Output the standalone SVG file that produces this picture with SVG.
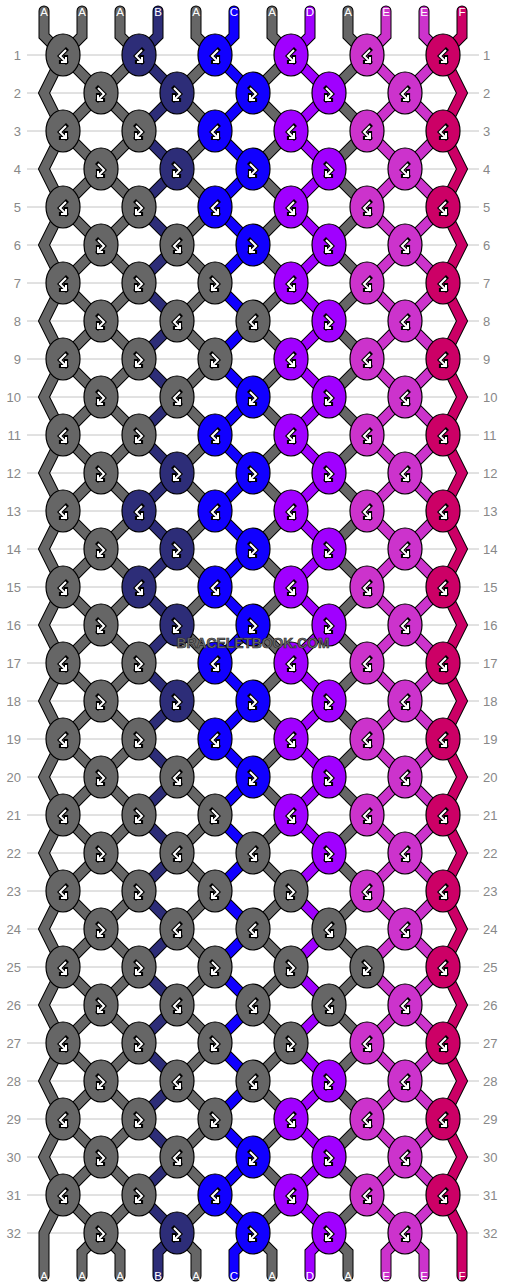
<svg xmlns="http://www.w3.org/2000/svg" xmlns:xlink="http://www.w3.org/1999/xlink" width="506" height="1288" viewBox="0 0 506 1288">
<style>
.th{fill:none;stroke-linejoin:miter;stroke-linecap:round}
.o{stroke:#000;stroke-width:11}
.ta{stroke:#666;stroke-width:9}
.tb{stroke:#2d2d78;stroke-width:9}
.tc{stroke:#1100ff;stroke-width:9}
.td{stroke:#a000ff;stroke-width:9}
.te{stroke:#cc33cc;stroke-width:9}
.tf{stroke:#cc0066;stroke-width:9}
ellipse{stroke:#000;stroke-width:1.2}
.a{fill:#666}.b{fill:#2d2d78}.c{fill:#1100ff}.d{fill:#a000ff}.e{fill:#cc33cc}.f{fill:#cc0066}
.io{fill:none;stroke:#000;stroke-width:4.2;stroke-linecap:square}
.ii{fill:none;stroke:#fff;stroke-width:2}
.lb{font-family:"Liberation Sans",Arial,sans-serif;font-size:11.5px;fill:#fff;text-anchor:middle}
.rl{font-family:"Liberation Sans",Arial,sans-serif;font-size:13px;fill:#888;text-anchor:end}
.rr{font-family:"Liberation Sans",Arial,sans-serif;font-size:13px;fill:#888;text-anchor:start}
.wm{font-family:"Liberation Sans",Arial,sans-serif;font-size:14px;font-weight:bold;fill:#707070;stroke:#2a2a2a;stroke-width:0.7;text-anchor:middle}
</style>
<defs>
<path id="zz" d="M0 11V36l19 19 -38 38 38 38 -38 38 38 38 -38 38 38 38 -38 38 38 38 -38 38 38 38
 -38 38 38 38 -38 38 38 38 -38 38 38 38 -38 38 38 38 -38 38 38 38
 -38 38 38 38 -38 38 38 38 -38 38 38 38 -38 38 38 38 -38 38 38 38
 -38 38 19 19V1276"/>
<path id="ed" d="M0 11V36l19 19 -19 38 19 38 -19 38 19 38 -19 38 19 38 -19 38 19 38 -19 38 19 38
 -19 38 19 38 -19 38 19 38 -19 38 19 38 -19 38 19 38 -19 38 19 38
 -19 38 19 38 -19 38 19 38 -19 38 19 38 -19 38 19 38 -19 38 19 38
 -19 38V1276"/>
<path id="ibf" d="M3-5-3 1 3 7M3 2V7H-2"/>
<path id="ifb" d="M-3-5 3 1-3 7M-3 2V7H2"/>
<g id="bf"><use href="#ibf" class="io"/><use href="#ibf" class="ii"/></g>
<g id="fb"><use href="#ifb" class="io"/><use href="#ifb" class="ii"/></g>
</defs>
<rect width="506" height="1288" fill="#fff"/>
<path stroke="#c4c4c4" stroke-width="1" fill="none" d="M27 55H479M27 93H479M27 131H479M27 169H479M27 207H479M27 245H479M27 283H479M27 321H479M27 359H479M27 397H479M27 435H479M27 473H479M27 511H479M27 549H479M27 587H479M27 625H479M27 663H479M27 701H479M27 739H479M27 777H479M27 815H479M27 853H479M27 891H479M27 929H479M27 967H479M27 1005H479M27 1043H479M27 1081H479M27 1119H479M27 1157H479M27 1195H479M27 1233H479"/>
<g id="threads" class="th">
<use href="#ed" class="o" transform="translate(44 0)"/>
<use href="#zz" class="o" transform="translate(82 0) scale(-1 1)"/>
<use href="#zz" class="o" transform="translate(120 0)"/>
<use href="#zz" class="o" transform="translate(158 0) scale(-1 1)"/>
<use href="#zz" class="o" transform="translate(196 0)"/>
<use href="#zz" class="o" transform="translate(234 0) scale(-1 1)"/>
<use href="#zz" class="o" transform="translate(272 0)"/>
<use href="#zz" class="o" transform="translate(310 0) scale(-1 1)"/>
<use href="#zz" class="o" transform="translate(348 0)"/>
<use href="#zz" class="o" transform="translate(386 0) scale(-1 1)"/>
<use href="#zz" class="o" transform="translate(424 0)"/>
<use href="#ed" class="o" transform="translate(462 0) scale(-1 1)"/>
<use href="#ed" class="ta" transform="translate(44 0)"/>
<use href="#zz" class="ta" transform="translate(82 0) scale(-1 1)"/>
<use href="#zz" class="ta" transform="translate(120 0)"/>
<use href="#zz" class="tb" transform="translate(158 0) scale(-1 1)"/>
<use href="#zz" class="ta" transform="translate(196 0)"/>
<use href="#zz" class="tc" transform="translate(234 0) scale(-1 1)"/>
<use href="#zz" class="ta" transform="translate(272 0)"/>
<use href="#zz" class="td" transform="translate(310 0) scale(-1 1)"/>
<use href="#zz" class="ta" transform="translate(348 0)"/>
<use href="#zz" class="te" transform="translate(386 0) scale(-1 1)"/>
<use href="#zz" class="te" transform="translate(424 0)"/>
<use href="#ed" class="tf" transform="translate(462 0) scale(-1 1)"/>
</g>
<g id="knots">
<g id="k1-1"><ellipse class="a" cx="63" cy="55" rx="17" ry="21"/><use href="#bf" x="63" y="55"/></g>
<g id="k1-2"><ellipse class="b" cx="139" cy="55" rx="17" ry="21"/><use href="#bf" x="139" y="55"/></g>
<g id="k1-3"><ellipse class="c" cx="215" cy="55" rx="17" ry="21"/><use href="#bf" x="215" y="55"/></g>
<g id="k1-4"><ellipse class="d" cx="291" cy="55" rx="17" ry="21"/><use href="#bf" x="291" y="55"/></g>
<g id="k1-5"><ellipse class="e" cx="367" cy="55" rx="17" ry="21"/><use href="#bf" x="367" y="55"/></g>
<g id="k1-6"><ellipse class="f" cx="443" cy="55" rx="17" ry="21"/><use href="#bf" x="443" y="55"/></g>
<g id="k2-1"><ellipse class="a" cx="101" cy="93" rx="17" ry="21"/><use href="#fb" x="101" y="93"/></g>
<g id="k2-2"><ellipse class="b" cx="177" cy="93" rx="17" ry="21"/><use href="#fb" x="177" y="93"/></g>
<g id="k2-3"><ellipse class="c" cx="253" cy="93" rx="17" ry="21"/><use href="#fb" x="253" y="93"/></g>
<g id="k2-4"><ellipse class="d" cx="329" cy="93" rx="17" ry="21"/><use href="#fb" x="329" y="93"/></g>
<g id="k2-5"><ellipse class="e" cx="405" cy="93" rx="17" ry="21"/><use href="#bf" x="405" y="93"/></g>
<g id="k3-1"><ellipse class="a" cx="63" cy="131" rx="17" ry="21"/><use href="#bf" x="63" y="131"/></g>
<g id="k3-2"><ellipse class="a" cx="139" cy="131" rx="17" ry="21"/><use href="#fb" x="139" y="131"/></g>
<g id="k3-3"><ellipse class="c" cx="215" cy="131" rx="17" ry="21"/><use href="#bf" x="215" y="131"/></g>
<g id="k3-4"><ellipse class="d" cx="291" cy="131" rx="17" ry="21"/><use href="#bf" x="291" y="131"/></g>
<g id="k3-5"><ellipse class="e" cx="367" cy="131" rx="17" ry="21"/><use href="#bf" x="367" y="131"/></g>
<g id="k3-6"><ellipse class="f" cx="443" cy="131" rx="17" ry="21"/><use href="#bf" x="443" y="131"/></g>
<g id="k4-1"><ellipse class="a" cx="101" cy="169" rx="17" ry="21"/><use href="#fb" x="101" y="169"/></g>
<g id="k4-2"><ellipse class="b" cx="177" cy="169" rx="17" ry="21"/><use href="#fb" x="177" y="169"/></g>
<g id="k4-3"><ellipse class="c" cx="253" cy="169" rx="17" ry="21"/><use href="#fb" x="253" y="169"/></g>
<g id="k4-4"><ellipse class="d" cx="329" cy="169" rx="17" ry="21"/><use href="#fb" x="329" y="169"/></g>
<g id="k4-5"><ellipse class="e" cx="405" cy="169" rx="17" ry="21"/><use href="#bf" x="405" y="169"/></g>
<g id="k5-1"><ellipse class="a" cx="63" cy="207" rx="17" ry="21"/><use href="#bf" x="63" y="207"/></g>
<g id="k5-2"><ellipse class="a" cx="139" cy="207" rx="17" ry="21"/><use href="#fb" x="139" y="207"/></g>
<g id="k5-3"><ellipse class="c" cx="215" cy="207" rx="17" ry="21"/><use href="#bf" x="215" y="207"/></g>
<g id="k5-4"><ellipse class="d" cx="291" cy="207" rx="17" ry="21"/><use href="#bf" x="291" y="207"/></g>
<g id="k5-5"><ellipse class="e" cx="367" cy="207" rx="17" ry="21"/><use href="#bf" x="367" y="207"/></g>
<g id="k5-6"><ellipse class="f" cx="443" cy="207" rx="17" ry="21"/><use href="#bf" x="443" y="207"/></g>
<g id="k6-1"><ellipse class="a" cx="101" cy="245" rx="17" ry="21"/><use href="#fb" x="101" y="245"/></g>
<g id="k6-2"><ellipse class="a" cx="177" cy="245" rx="17" ry="21"/><use href="#bf" x="177" y="245"/></g>
<g id="k6-3"><ellipse class="c" cx="253" cy="245" rx="17" ry="21"/><use href="#fb" x="253" y="245"/></g>
<g id="k6-4"><ellipse class="d" cx="329" cy="245" rx="17" ry="21"/><use href="#fb" x="329" y="245"/></g>
<g id="k6-5"><ellipse class="e" cx="405" cy="245" rx="17" ry="21"/><use href="#bf" x="405" y="245"/></g>
<g id="k7-1"><ellipse class="a" cx="63" cy="283" rx="17" ry="21"/><use href="#bf" x="63" y="283"/></g>
<g id="k7-2"><ellipse class="a" cx="139" cy="283" rx="17" ry="21"/><use href="#fb" x="139" y="283"/></g>
<g id="k7-3"><ellipse class="a" cx="215" cy="283" rx="17" ry="21"/><use href="#fb" x="215" y="283"/></g>
<g id="k7-4"><ellipse class="d" cx="291" cy="283" rx="17" ry="21"/><use href="#bf" x="291" y="283"/></g>
<g id="k7-5"><ellipse class="e" cx="367" cy="283" rx="17" ry="21"/><use href="#bf" x="367" y="283"/></g>
<g id="k7-6"><ellipse class="f" cx="443" cy="283" rx="17" ry="21"/><use href="#bf" x="443" y="283"/></g>
<g id="k8-1"><ellipse class="a" cx="101" cy="321" rx="17" ry="21"/><use href="#fb" x="101" y="321"/></g>
<g id="k8-2"><ellipse class="a" cx="177" cy="321" rx="17" ry="21"/><use href="#bf" x="177" y="321"/></g>
<g id="k8-3"><ellipse class="a" cx="253" cy="321" rx="17" ry="21"/><use href="#bf" x="253" y="321"/></g>
<g id="k8-4"><ellipse class="d" cx="329" cy="321" rx="17" ry="21"/><use href="#fb" x="329" y="321"/></g>
<g id="k8-5"><ellipse class="e" cx="405" cy="321" rx="17" ry="21"/><use href="#bf" x="405" y="321"/></g>
<g id="k9-1"><ellipse class="a" cx="63" cy="359" rx="17" ry="21"/><use href="#bf" x="63" y="359"/></g>
<g id="k9-2"><ellipse class="a" cx="139" cy="359" rx="17" ry="21"/><use href="#fb" x="139" y="359"/></g>
<g id="k9-3"><ellipse class="a" cx="215" cy="359" rx="17" ry="21"/><use href="#fb" x="215" y="359"/></g>
<g id="k9-4"><ellipse class="d" cx="291" cy="359" rx="17" ry="21"/><use href="#bf" x="291" y="359"/></g>
<g id="k9-5"><ellipse class="e" cx="367" cy="359" rx="17" ry="21"/><use href="#bf" x="367" y="359"/></g>
<g id="k9-6"><ellipse class="f" cx="443" cy="359" rx="17" ry="21"/><use href="#bf" x="443" y="359"/></g>
<g id="k10-1"><ellipse class="a" cx="101" cy="397" rx="17" ry="21"/><use href="#fb" x="101" y="397"/></g>
<g id="k10-2"><ellipse class="a" cx="177" cy="397" rx="17" ry="21"/><use href="#bf" x="177" y="397"/></g>
<g id="k10-3"><ellipse class="c" cx="253" cy="397" rx="17" ry="21"/><use href="#fb" x="253" y="397"/></g>
<g id="k10-4"><ellipse class="d" cx="329" cy="397" rx="17" ry="21"/><use href="#fb" x="329" y="397"/></g>
<g id="k10-5"><ellipse class="e" cx="405" cy="397" rx="17" ry="21"/><use href="#bf" x="405" y="397"/></g>
<g id="k11-1"><ellipse class="a" cx="63" cy="435" rx="17" ry="21"/><use href="#bf" x="63" y="435"/></g>
<g id="k11-2"><ellipse class="a" cx="139" cy="435" rx="17" ry="21"/><use href="#fb" x="139" y="435"/></g>
<g id="k11-3"><ellipse class="c" cx="215" cy="435" rx="17" ry="21"/><use href="#bf" x="215" y="435"/></g>
<g id="k11-4"><ellipse class="d" cx="291" cy="435" rx="17" ry="21"/><use href="#bf" x="291" y="435"/></g>
<g id="k11-5"><ellipse class="e" cx="367" cy="435" rx="17" ry="21"/><use href="#bf" x="367" y="435"/></g>
<g id="k11-6"><ellipse class="f" cx="443" cy="435" rx="17" ry="21"/><use href="#bf" x="443" y="435"/></g>
<g id="k12-1"><ellipse class="a" cx="101" cy="473" rx="17" ry="21"/><use href="#fb" x="101" y="473"/></g>
<g id="k12-2"><ellipse class="b" cx="177" cy="473" rx="17" ry="21"/><use href="#fb" x="177" y="473"/></g>
<g id="k12-3"><ellipse class="c" cx="253" cy="473" rx="17" ry="21"/><use href="#fb" x="253" y="473"/></g>
<g id="k12-4"><ellipse class="d" cx="329" cy="473" rx="17" ry="21"/><use href="#fb" x="329" y="473"/></g>
<g id="k12-5"><ellipse class="e" cx="405" cy="473" rx="17" ry="21"/><use href="#bf" x="405" y="473"/></g>
<g id="k13-1"><ellipse class="a" cx="63" cy="511" rx="17" ry="21"/><use href="#bf" x="63" y="511"/></g>
<g id="k13-2"><ellipse class="b" cx="139" cy="511" rx="17" ry="21"/><use href="#bf" x="139" y="511"/></g>
<g id="k13-3"><ellipse class="c" cx="215" cy="511" rx="17" ry="21"/><use href="#bf" x="215" y="511"/></g>
<g id="k13-4"><ellipse class="d" cx="291" cy="511" rx="17" ry="21"/><use href="#bf" x="291" y="511"/></g>
<g id="k13-5"><ellipse class="e" cx="367" cy="511" rx="17" ry="21"/><use href="#bf" x="367" y="511"/></g>
<g id="k13-6"><ellipse class="f" cx="443" cy="511" rx="17" ry="21"/><use href="#bf" x="443" y="511"/></g>
<g id="k14-1"><ellipse class="a" cx="101" cy="549" rx="17" ry="21"/><use href="#fb" x="101" y="549"/></g>
<g id="k14-2"><ellipse class="b" cx="177" cy="549" rx="17" ry="21"/><use href="#fb" x="177" y="549"/></g>
<g id="k14-3"><ellipse class="c" cx="253" cy="549" rx="17" ry="21"/><use href="#fb" x="253" y="549"/></g>
<g id="k14-4"><ellipse class="d" cx="329" cy="549" rx="17" ry="21"/><use href="#fb" x="329" y="549"/></g>
<g id="k14-5"><ellipse class="e" cx="405" cy="549" rx="17" ry="21"/><use href="#bf" x="405" y="549"/></g>
<g id="k15-1"><ellipse class="a" cx="63" cy="587" rx="17" ry="21"/><use href="#bf" x="63" y="587"/></g>
<g id="k15-2"><ellipse class="b" cx="139" cy="587" rx="17" ry="21"/><use href="#bf" x="139" y="587"/></g>
<g id="k15-3"><ellipse class="c" cx="215" cy="587" rx="17" ry="21"/><use href="#bf" x="215" y="587"/></g>
<g id="k15-4"><ellipse class="d" cx="291" cy="587" rx="17" ry="21"/><use href="#bf" x="291" y="587"/></g>
<g id="k15-5"><ellipse class="e" cx="367" cy="587" rx="17" ry="21"/><use href="#bf" x="367" y="587"/></g>
<g id="k15-6"><ellipse class="f" cx="443" cy="587" rx="17" ry="21"/><use href="#bf" x="443" y="587"/></g>
<g id="k16-1"><ellipse class="a" cx="101" cy="625" rx="17" ry="21"/><use href="#fb" x="101" y="625"/></g>
<g id="k16-2"><ellipse class="b" cx="177" cy="625" rx="17" ry="21"/><use href="#fb" x="177" y="625"/></g>
<g id="k16-3"><ellipse class="c" cx="253" cy="625" rx="17" ry="21"/><use href="#fb" x="253" y="625"/></g>
<g id="k16-4"><ellipse class="d" cx="329" cy="625" rx="17" ry="21"/><use href="#fb" x="329" y="625"/></g>
<g id="k16-5"><ellipse class="e" cx="405" cy="625" rx="17" ry="21"/><use href="#bf" x="405" y="625"/></g>
<g id="k17-1"><ellipse class="a" cx="63" cy="663" rx="17" ry="21"/><use href="#bf" x="63" y="663"/></g>
<g id="k17-2"><ellipse class="a" cx="139" cy="663" rx="17" ry="21"/><use href="#fb" x="139" y="663"/></g>
<g id="k17-3"><ellipse class="c" cx="215" cy="663" rx="17" ry="21"/><use href="#bf" x="215" y="663"/></g>
<g id="k17-4"><ellipse class="d" cx="291" cy="663" rx="17" ry="21"/><use href="#bf" x="291" y="663"/></g>
<g id="k17-5"><ellipse class="e" cx="367" cy="663" rx="17" ry="21"/><use href="#bf" x="367" y="663"/></g>
<g id="k17-6"><ellipse class="f" cx="443" cy="663" rx="17" ry="21"/><use href="#bf" x="443" y="663"/></g>
<g id="k18-1"><ellipse class="a" cx="101" cy="701" rx="17" ry="21"/><use href="#fb" x="101" y="701"/></g>
<g id="k18-2"><ellipse class="b" cx="177" cy="701" rx="17" ry="21"/><use href="#fb" x="177" y="701"/></g>
<g id="k18-3"><ellipse class="c" cx="253" cy="701" rx="17" ry="21"/><use href="#fb" x="253" y="701"/></g>
<g id="k18-4"><ellipse class="d" cx="329" cy="701" rx="17" ry="21"/><use href="#fb" x="329" y="701"/></g>
<g id="k18-5"><ellipse class="e" cx="405" cy="701" rx="17" ry="21"/><use href="#bf" x="405" y="701"/></g>
<g id="k19-1"><ellipse class="a" cx="63" cy="739" rx="17" ry="21"/><use href="#bf" x="63" y="739"/></g>
<g id="k19-2"><ellipse class="a" cx="139" cy="739" rx="17" ry="21"/><use href="#fb" x="139" y="739"/></g>
<g id="k19-3"><ellipse class="c" cx="215" cy="739" rx="17" ry="21"/><use href="#bf" x="215" y="739"/></g>
<g id="k19-4"><ellipse class="d" cx="291" cy="739" rx="17" ry="21"/><use href="#bf" x="291" y="739"/></g>
<g id="k19-5"><ellipse class="e" cx="367" cy="739" rx="17" ry="21"/><use href="#bf" x="367" y="739"/></g>
<g id="k19-6"><ellipse class="f" cx="443" cy="739" rx="17" ry="21"/><use href="#bf" x="443" y="739"/></g>
<g id="k20-1"><ellipse class="a" cx="101" cy="777" rx="17" ry="21"/><use href="#fb" x="101" y="777"/></g>
<g id="k20-2"><ellipse class="a" cx="177" cy="777" rx="17" ry="21"/><use href="#bf" x="177" y="777"/></g>
<g id="k20-3"><ellipse class="c" cx="253" cy="777" rx="17" ry="21"/><use href="#fb" x="253" y="777"/></g>
<g id="k20-4"><ellipse class="d" cx="329" cy="777" rx="17" ry="21"/><use href="#fb" x="329" y="777"/></g>
<g id="k20-5"><ellipse class="e" cx="405" cy="777" rx="17" ry="21"/><use href="#bf" x="405" y="777"/></g>
<g id="k21-1"><ellipse class="a" cx="63" cy="815" rx="17" ry="21"/><use href="#bf" x="63" y="815"/></g>
<g id="k21-2"><ellipse class="a" cx="139" cy="815" rx="17" ry="21"/><use href="#fb" x="139" y="815"/></g>
<g id="k21-3"><ellipse class="a" cx="215" cy="815" rx="17" ry="21"/><use href="#fb" x="215" y="815"/></g>
<g id="k21-4"><ellipse class="d" cx="291" cy="815" rx="17" ry="21"/><use href="#bf" x="291" y="815"/></g>
<g id="k21-5"><ellipse class="e" cx="367" cy="815" rx="17" ry="21"/><use href="#bf" x="367" y="815"/></g>
<g id="k21-6"><ellipse class="f" cx="443" cy="815" rx="17" ry="21"/><use href="#bf" x="443" y="815"/></g>
<g id="k22-1"><ellipse class="a" cx="101" cy="853" rx="17" ry="21"/><use href="#fb" x="101" y="853"/></g>
<g id="k22-2"><ellipse class="a" cx="177" cy="853" rx="17" ry="21"/><use href="#bf" x="177" y="853"/></g>
<g id="k22-3"><ellipse class="a" cx="253" cy="853" rx="17" ry="21"/><use href="#bf" x="253" y="853"/></g>
<g id="k22-4"><ellipse class="d" cx="329" cy="853" rx="17" ry="21"/><use href="#fb" x="329" y="853"/></g>
<g id="k22-5"><ellipse class="e" cx="405" cy="853" rx="17" ry="21"/><use href="#bf" x="405" y="853"/></g>
<g id="k23-1"><ellipse class="a" cx="63" cy="891" rx="17" ry="21"/><use href="#bf" x="63" y="891"/></g>
<g id="k23-2"><ellipse class="a" cx="139" cy="891" rx="17" ry="21"/><use href="#fb" x="139" y="891"/></g>
<g id="k23-3"><ellipse class="a" cx="215" cy="891" rx="17" ry="21"/><use href="#fb" x="215" y="891"/></g>
<g id="k23-4"><ellipse class="a" cx="291" cy="891" rx="17" ry="21"/><use href="#fb" x="291" y="891"/></g>
<g id="k23-5"><ellipse class="e" cx="367" cy="891" rx="17" ry="21"/><use href="#bf" x="367" y="891"/></g>
<g id="k23-6"><ellipse class="f" cx="443" cy="891" rx="17" ry="21"/><use href="#bf" x="443" y="891"/></g>
<g id="k24-1"><ellipse class="a" cx="101" cy="929" rx="17" ry="21"/><use href="#fb" x="101" y="929"/></g>
<g id="k24-2"><ellipse class="a" cx="177" cy="929" rx="17" ry="21"/><use href="#bf" x="177" y="929"/></g>
<g id="k24-3"><ellipse class="a" cx="253" cy="929" rx="17" ry="21"/><use href="#bf" x="253" y="929"/></g>
<g id="k24-4"><ellipse class="a" cx="329" cy="929" rx="17" ry="21"/><use href="#bf" x="329" y="929"/></g>
<g id="k24-5"><ellipse class="e" cx="405" cy="929" rx="17" ry="21"/><use href="#bf" x="405" y="929"/></g>
<g id="k25-1"><ellipse class="a" cx="63" cy="967" rx="17" ry="21"/><use href="#bf" x="63" y="967"/></g>
<g id="k25-2"><ellipse class="a" cx="139" cy="967" rx="17" ry="21"/><use href="#fb" x="139" y="967"/></g>
<g id="k25-3"><ellipse class="a" cx="215" cy="967" rx="17" ry="21"/><use href="#fb" x="215" y="967"/></g>
<g id="k25-4"><ellipse class="a" cx="291" cy="967" rx="17" ry="21"/><use href="#fb" x="291" y="967"/></g>
<g id="k25-5"><ellipse class="a" cx="367" cy="967" rx="17" ry="21"/><use href="#fb" x="367" y="967"/></g>
<g id="k25-6"><ellipse class="f" cx="443" cy="967" rx="17" ry="21"/><use href="#bf" x="443" y="967"/></g>
<g id="k26-1"><ellipse class="a" cx="101" cy="1005" rx="17" ry="21"/><use href="#fb" x="101" y="1005"/></g>
<g id="k26-2"><ellipse class="a" cx="177" cy="1005" rx="17" ry="21"/><use href="#bf" x="177" y="1005"/></g>
<g id="k26-3"><ellipse class="a" cx="253" cy="1005" rx="17" ry="21"/><use href="#bf" x="253" y="1005"/></g>
<g id="k26-4"><ellipse class="a" cx="329" cy="1005" rx="17" ry="21"/><use href="#bf" x="329" y="1005"/></g>
<g id="k26-5"><ellipse class="e" cx="405" cy="1005" rx="17" ry="21"/><use href="#bf" x="405" y="1005"/></g>
<g id="k27-1"><ellipse class="a" cx="63" cy="1043" rx="17" ry="21"/><use href="#bf" x="63" y="1043"/></g>
<g id="k27-2"><ellipse class="a" cx="139" cy="1043" rx="17" ry="21"/><use href="#fb" x="139" y="1043"/></g>
<g id="k27-3"><ellipse class="a" cx="215" cy="1043" rx="17" ry="21"/><use href="#fb" x="215" y="1043"/></g>
<g id="k27-4"><ellipse class="a" cx="291" cy="1043" rx="17" ry="21"/><use href="#fb" x="291" y="1043"/></g>
<g id="k27-5"><ellipse class="e" cx="367" cy="1043" rx="17" ry="21"/><use href="#bf" x="367" y="1043"/></g>
<g id="k27-6"><ellipse class="f" cx="443" cy="1043" rx="17" ry="21"/><use href="#bf" x="443" y="1043"/></g>
<g id="k28-1"><ellipse class="a" cx="101" cy="1081" rx="17" ry="21"/><use href="#fb" x="101" y="1081"/></g>
<g id="k28-2"><ellipse class="a" cx="177" cy="1081" rx="17" ry="21"/><use href="#bf" x="177" y="1081"/></g>
<g id="k28-3"><ellipse class="a" cx="253" cy="1081" rx="17" ry="21"/><use href="#bf" x="253" y="1081"/></g>
<g id="k28-4"><ellipse class="d" cx="329" cy="1081" rx="17" ry="21"/><use href="#fb" x="329" y="1081"/></g>
<g id="k28-5"><ellipse class="e" cx="405" cy="1081" rx="17" ry="21"/><use href="#bf" x="405" y="1081"/></g>
<g id="k29-1"><ellipse class="a" cx="63" cy="1119" rx="17" ry="21"/><use href="#bf" x="63" y="1119"/></g>
<g id="k29-2"><ellipse class="a" cx="139" cy="1119" rx="17" ry="21"/><use href="#fb" x="139" y="1119"/></g>
<g id="k29-3"><ellipse class="a" cx="215" cy="1119" rx="17" ry="21"/><use href="#fb" x="215" y="1119"/></g>
<g id="k29-4"><ellipse class="d" cx="291" cy="1119" rx="17" ry="21"/><use href="#bf" x="291" y="1119"/></g>
<g id="k29-5"><ellipse class="e" cx="367" cy="1119" rx="17" ry="21"/><use href="#bf" x="367" y="1119"/></g>
<g id="k29-6"><ellipse class="f" cx="443" cy="1119" rx="17" ry="21"/><use href="#bf" x="443" y="1119"/></g>
<g id="k30-1"><ellipse class="a" cx="101" cy="1157" rx="17" ry="21"/><use href="#fb" x="101" y="1157"/></g>
<g id="k30-2"><ellipse class="a" cx="177" cy="1157" rx="17" ry="21"/><use href="#bf" x="177" y="1157"/></g>
<g id="k30-3"><ellipse class="c" cx="253" cy="1157" rx="17" ry="21"/><use href="#fb" x="253" y="1157"/></g>
<g id="k30-4"><ellipse class="d" cx="329" cy="1157" rx="17" ry="21"/><use href="#fb" x="329" y="1157"/></g>
<g id="k30-5"><ellipse class="e" cx="405" cy="1157" rx="17" ry="21"/><use href="#bf" x="405" y="1157"/></g>
<g id="k31-1"><ellipse class="a" cx="63" cy="1195" rx="17" ry="21"/><use href="#bf" x="63" y="1195"/></g>
<g id="k31-2"><ellipse class="a" cx="139" cy="1195" rx="17" ry="21"/><use href="#fb" x="139" y="1195"/></g>
<g id="k31-3"><ellipse class="c" cx="215" cy="1195" rx="17" ry="21"/><use href="#bf" x="215" y="1195"/></g>
<g id="k31-4"><ellipse class="d" cx="291" cy="1195" rx="17" ry="21"/><use href="#bf" x="291" y="1195"/></g>
<g id="k31-5"><ellipse class="e" cx="367" cy="1195" rx="17" ry="21"/><use href="#bf" x="367" y="1195"/></g>
<g id="k31-6"><ellipse class="f" cx="443" cy="1195" rx="17" ry="21"/><use href="#bf" x="443" y="1195"/></g>
<g id="k32-1"><ellipse class="a" cx="101" cy="1233" rx="17" ry="21"/><use href="#fb" x="101" y="1233"/></g>
<g id="k32-2"><ellipse class="b" cx="177" cy="1233" rx="17" ry="21"/><use href="#fb" x="177" y="1233"/></g>
<g id="k32-3"><ellipse class="c" cx="253" cy="1233" rx="17" ry="21"/><use href="#fb" x="253" y="1233"/></g>
<g id="k32-4"><ellipse class="d" cx="329" cy="1233" rx="17" ry="21"/><use href="#fb" x="329" y="1233"/></g>
<g id="k32-5"><ellipse class="e" cx="405" cy="1233" rx="17" ry="21"/><use href="#bf" x="405" y="1233"/></g>
</g>
<g id="labels">
<text class="lb" x="44" y="15.5">A</text><text class="lb" x="82" y="15.5">A</text><text class="lb" x="120" y="15.5">A</text><text class="lb" x="158" y="15.5">B</text><text class="lb" x="196" y="15.5">A</text><text class="lb" x="234" y="15.5">C</text><text class="lb" x="272" y="15.5">A</text><text class="lb" x="310" y="15.5">D</text><text class="lb" x="348" y="15.5">A</text><text class="lb" x="386" y="15.5">E</text><text class="lb" x="424" y="15.5">E</text><text class="lb" x="462" y="15.5">F</text>
<text class="lb" x="44" y="1280">A</text><text class="lb" x="82" y="1280">A</text><text class="lb" x="120" y="1280">A</text><text class="lb" x="158" y="1280">B</text><text class="lb" x="196" y="1280">A</text><text class="lb" x="234" y="1280">C</text><text class="lb" x="272" y="1280">A</text><text class="lb" x="310" y="1280">D</text><text class="lb" x="348" y="1280">A</text><text class="lb" x="386" y="1280">E</text><text class="lb" x="424" y="1280">E</text><text class="lb" x="462" y="1280">F</text>
</g>
<g id="rownums">
<text class="rl" x="21" y="59.5">1</text><text class="rr" x="483" y="59.5">1</text>
<text class="rl" x="21" y="97.5">2</text><text class="rr" x="483" y="97.5">2</text>
<text class="rl" x="21" y="135.5">3</text><text class="rr" x="483" y="135.5">3</text>
<text class="rl" x="21" y="173.5">4</text><text class="rr" x="483" y="173.5">4</text>
<text class="rl" x="21" y="211.5">5</text><text class="rr" x="483" y="211.5">5</text>
<text class="rl" x="21" y="249.5">6</text><text class="rr" x="483" y="249.5">6</text>
<text class="rl" x="21" y="287.5">7</text><text class="rr" x="483" y="287.5">7</text>
<text class="rl" x="21" y="325.5">8</text><text class="rr" x="483" y="325.5">8</text>
<text class="rl" x="21" y="363.5">9</text><text class="rr" x="483" y="363.5">9</text>
<text class="rl" x="21" y="401.5">10</text><text class="rr" x="483" y="401.5">10</text>
<text class="rl" x="21" y="439.5">11</text><text class="rr" x="483" y="439.5">11</text>
<text class="rl" x="21" y="477.5">12</text><text class="rr" x="483" y="477.5">12</text>
<text class="rl" x="21" y="515.5">13</text><text class="rr" x="483" y="515.5">13</text>
<text class="rl" x="21" y="553.5">14</text><text class="rr" x="483" y="553.5">14</text>
<text class="rl" x="21" y="591.5">15</text><text class="rr" x="483" y="591.5">15</text>
<text class="rl" x="21" y="629.5">16</text><text class="rr" x="483" y="629.5">16</text>
<text class="rl" x="21" y="667.5">17</text><text class="rr" x="483" y="667.5">17</text>
<text class="rl" x="21" y="705.5">18</text><text class="rr" x="483" y="705.5">18</text>
<text class="rl" x="21" y="743.5">19</text><text class="rr" x="483" y="743.5">19</text>
<text class="rl" x="21" y="781.5">20</text><text class="rr" x="483" y="781.5">20</text>
<text class="rl" x="21" y="819.5">21</text><text class="rr" x="483" y="819.5">21</text>
<text class="rl" x="21" y="857.5">22</text><text class="rr" x="483" y="857.5">22</text>
<text class="rl" x="21" y="895.5">23</text><text class="rr" x="483" y="895.5">23</text>
<text class="rl" x="21" y="933.5">24</text><text class="rr" x="483" y="933.5">24</text>
<text class="rl" x="21" y="971.5">25</text><text class="rr" x="483" y="971.5">25</text>
<text class="rl" x="21" y="1009.5">26</text><text class="rr" x="483" y="1009.5">26</text>
<text class="rl" x="21" y="1047.5">27</text><text class="rr" x="483" y="1047.5">27</text>
<text class="rl" x="21" y="1085.5">28</text><text class="rr" x="483" y="1085.5">28</text>
<text class="rl" x="21" y="1123.5">29</text><text class="rr" x="483" y="1123.5">29</text>
<text class="rl" x="21" y="1161.5">30</text><text class="rr" x="483" y="1161.5">30</text>
<text class="rl" x="21" y="1199.5">31</text><text class="rr" x="483" y="1199.5">31</text>
<text class="rl" x="21" y="1237.5">32</text><text class="rr" x="483" y="1237.5">32</text>
</g>
<text class="wm" x="253" y="648" textLength="153" lengthAdjust="spacingAndGlyphs">BRACELETBOOK.COM</text>
</svg>
